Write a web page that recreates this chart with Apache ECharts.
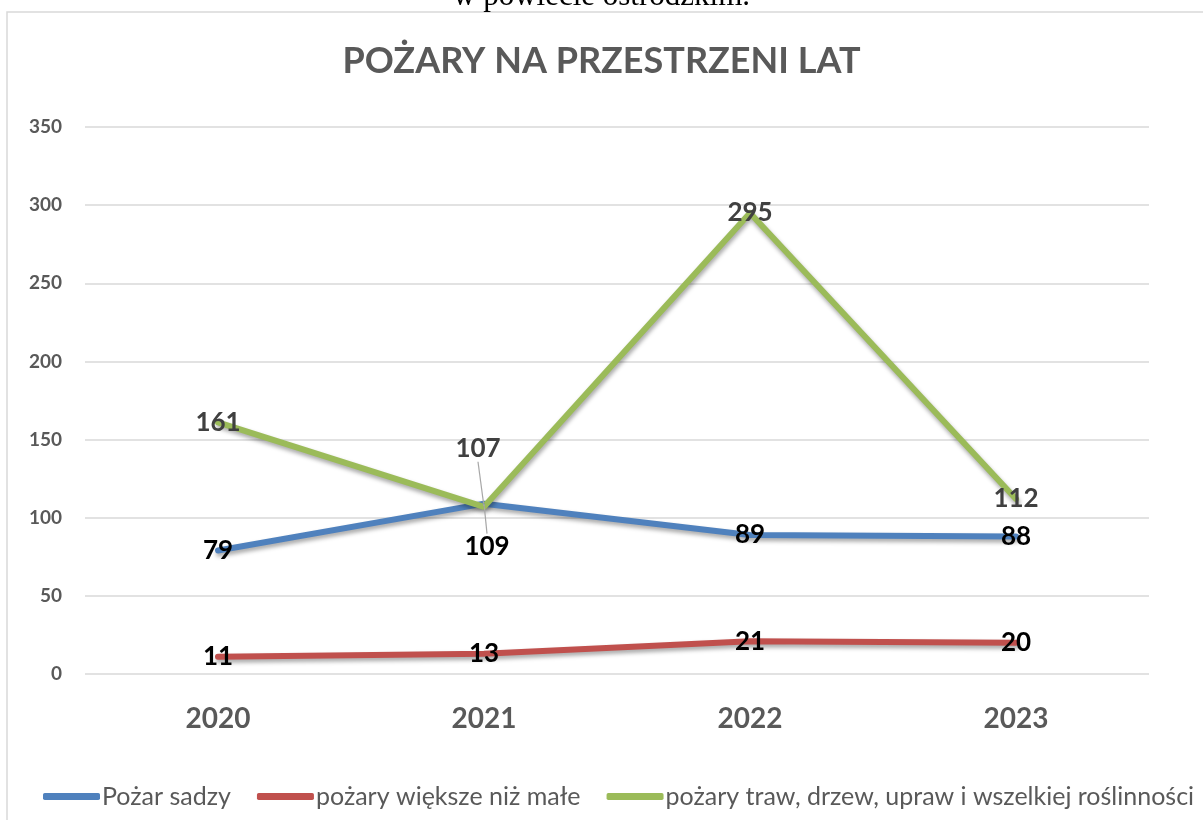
<!DOCTYPE html>
<html>
<head>
<meta charset="utf-8">
<script src="https://cdn.jsdelivr.net/npm/echarts@6/dist/echarts.min.js"></script>
<style>
  html, body { margin: 0; padding: 0; background: #fff; }
  #chart { width: 1203px; height: 820px; }
</style>
</head>
<body>
<div id="chart"></div>
<script>
var years = ['2020', '2021', '2022', '2023'];
var sadza = [79, 109, 89, 88];
var wieksze = [11, 13, 21, 20];
var roslinnosc = [161, 107, 295, 112];
var seriesNames = ['Pożar sadzy', 'pożary większe niż małe', 'pożary traw, drzew, upraw i wszelkiej roślinności'];
var colors = ['#4f81bd', '#c0504d', '#9bbb59'];

var lineShadow = { shadowColor: 'rgba(0,0,0,0.35)', shadowBlur: 4, shadowOffsetY: 3, shadowOffsetX: 1 };
var leader = { show: true, lineStyle: { color: '#a6a6a6', width: 1.2 } };

function lineSeries(name, data, color, labelColor, moved) {
  return {
    name: name,
    type: 'line',
    data: data,
    symbol: 'circle',
    symbolSize: 1,
    itemStyle: { color: color },
    lineStyle: Object.assign({ width: 6, color: color, cap: 'round', join: 'round' }, lineShadow),
    label: {
      show: true,
      position: 'inside',
      color: labelColor,
      fontFamily: 'Lato',
      fontWeight: 'bold',
      fontSize: 26
    },
    labelLayout: function (params) {
      if (moved && params.dataIndex === moved.index) return { dx: moved.dx, dy: moved.dy };
    }
  };
}

// the two labels at 2021 are pushed apart, with leader lines
var s1 = lineSeries(seriesNames[0], sadza.map(function (v, i) {
  return i === 1 ? { value: v, labelLine: leader } : v;
}), colors[0], '#000', { index: 1, dx: 3, dy: 43 });
var s2 = lineSeries(seriesNames[1], wieksze, colors[1], '#000', null);
var s3 = lineSeries(seriesNames[2], roslinnosc.map(function (v, i) {
  return i === 1 ? { value: v, labelLine: leader } : v;
}), colors[2], '#404040', { index: 1, dx: -6, dy: -58 });

var myChart = echarts.init(document.getElementById('chart'));
myChart.setOption({
  backgroundColor: '#fff',
  animation: false,
  color: colors,
  title: [{
    text: 'POŻARY NA PRZESTRZENI LAT',
    left: 'center',
    top: 38,
    padding: [5, 5, 5, 26],
    textStyle: { fontFamily: 'Lato', fontWeight: 'bold', fontSize: 36, color: '#595959' }
  }, {
    // caption of the page above the chart, cut by the frame
    text: 'w powiecie ostródzkim.',
    left: 'center',
    top: -24,
    padding: [5, 5, 5, 28],
    textStyle: { fontFamily: 'Liberation Serif', fontWeight: 'normal', fontSize: 31, color: '#000' }
  }],
  graphic: [
    {
      type: 'rect',
      shape: { x: 7, y: 12, width: 1300, height: 900 },
      style: { fill: 'none', stroke: '#d9d9d9', lineWidth: 1.5 },
      silent: true
    }
  ],
  legend: {
    bottom: 6,
    left: 38,
    width: 1200,
    icon: 'roundRect',
    itemWidth: 57,
    itemHeight: 7,
    itemGap: 26,
    textStyle: { fontFamily: 'Lato', fontSize: 25, color: '#595959', padding: [0, 0, 0, -3] },
    data: seriesNames
  },
  grid: { left: 85, right: 54, top: 127, bottom: 146 },
  xAxis: {
    type: 'category',
    data: years,
    boundaryGap: true,
    axisLine: { show: false },
    axisTick: { show: false },
    axisLabel: { fontFamily: 'Lato', fontWeight: 'bold', fontSize: 28, color: '#595959', margin: 31 }
  },
  yAxis: {
    type: 'value',
    min: 0,
    max: 350,
    interval: 50,
    axisLine: { show: false },
    axisTick: { show: false },
    splitLine: { lineStyle: { color: '#d9d9d9', width: 1.5 } },
    axisLabel: { fontFamily: 'Lato', fontWeight: 'bold', fontSize: 19, color: '#595959', margin: 23 }
  },
  series: [s1, s2, s3]
});
</script>
</body>
</html>
